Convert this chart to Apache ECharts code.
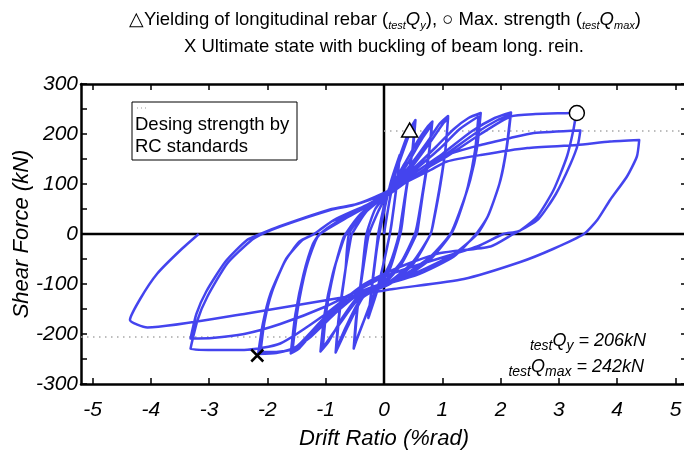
<!DOCTYPE html>
<html><head><meta charset="utf-8">
<script src="https://cdn.jsdelivr.net/npm/echarts@6/dist/echarts.min.js"></script>
<style>html,body{margin:0;padding:0;background:#fff}#c{width:684px;height:451px}</style>
</head><body><div id="c"></div>
<script>
const FONT = "'Liberation Sans',Arial,sans-serif";

// Axis ranges / tick labels
const xTickMin = -5, xTickMax = 5;
const yTickMin = -300, yTickMax = 300;
const designStrength = 206;
const testQy = 206, testQmax = 242;

// Hysteresis loops [drift %rad, shear kN]
const cycle025 = [[0,0],[0.1,70],[0.2,125],[0.27,155],[0.22,100],[0.14,30],[0.1,0],[0,-55],[-0.12,-115],[-0.26,-165],[-0.21,-110],[-0.13,-35],[-0.08,0],[0,45],[0.12,105],[0.27,158],[0.21,90],[0.13,20],[0.1,0],[-0.02,-65],[-0.14,-120],[-0.27,-168],[-0.21,-105],[-0.12,-20],[-0.1,0]];
const cycle05 = [[0,55],[0.15,110],[0.3,165],[0.44,208],[0.54,228],[0.5,175],[0.4,105],[0.3,30],[0.26,0],[0.1,-60],[-0.1,-105],[-0.3,-160],[-0.45,-205],[-0.52,-229],[-0.48,-170],[-0.39,-95],[-0.3,-25],[-0.26,0],[-0.1,45],[0.05,80],[0.25,140],[0.42,195],[0.53,222],[0.48,160],[0.38,85],[0.31,20],[0.28,0],[0.1,-70],[-0.15,-115],[-0.35,-175],[-0.51,-224],[-0.46,-155],[-0.37,-70],[-0.3,0]];
const cycle075 = [[-0.15,50],[0.05,80],[0.35,140],[0.6,190],[0.75,215],[0.83,225],[0.78,170],[0.68,95],[0.58,25],[0.53,0],[0.3,-55],[0,-95],[-0.35,-125],[-0.6,-180],[-0.83,-237],[-0.78,-170],[-0.68,-85],[-0.58,-15],[-0.55,0],[-0.3,45],[0.05,80],[0.4,140],[0.65,190],[0.82,218],[0.76,150],[0.66,75],[0.58,10],[0.56,0],[0.3,-60],[0,-100],[-0.4,-130],[-0.65,-185],[-0.82,-230],[-0.76,-155],[-0.66,-70],[-0.6,0]];
const cycle10 = [[-0.35,40],[0,78],[0.4,130],[0.75,185],[0.95,220],[1.1,236],[1.06,175],[0.97,100],[0.86,30],[0.8,0],[0.5,-55],[0.1,-95],[-0.4,-120],[-0.7,-165],[-0.95,-215],[-1.09,-235],[-1.02,-160],[-0.88,-80],[-0.72,-20],[-0.65,0],[-0.4,35],[0,75],[0.45,130],[0.8,185],[1.02,222],[1.1,232],[1.05,165],[0.95,90],[0.84,20],[0.8,0],[0.5,-60],[0.1,-100],[-0.4,-125],[-0.75,-178],[-1.05,-228],[-0.99,-155],[-0.86,-75],[-0.72,-15],[-0.66,0]];
const cycle15 = [[-0.4,40],[0,78],[0.5,130],[0.9,175],[1.2,210],[1.45,232],[1.66,242],[1.6,175],[1.48,108],[1.3,45],[1.14,0],[0.8,-45],[0.3,-85],[-0.4,-115],[-0.8,-150],[-1.2,-195],[-1.45,-228],[-1.6,-239],[-1.52,-160],[-1.38,-80],[-1.22,-20],[-1.1,0],[-0.6,35],[0,75],[0.5,125],[0.95,170],[1.3,210],[1.62,235],[1.56,165],[1.44,95],[1.28,35],[1.15,0],[0.8,-50],[0.3,-90],[-0.4,-118],[-0.85,-160],[-1.25,-205],[-1.57,-232],[-1.48,-150],[-1.34,-70],[-1.18,-15],[-1.1,0]];
const cycle20 = [[-0.8,25],[-0.3,55],[0,75],[0.5,120],[1.0,160],[1.5,205],[1.9,232],[2.18,243],[2.11,175],[2.0,108],[1.8,40],[1.6,0],[1.2,-40],[0.6,-75],[0,-100],[-0.45,-118],[-1.0,-165],[-1.5,-225],[-1.85,-238],[-2.16,-240],[-2.08,-180],[-1.95,-120],[-1.7,-55],[-1.45,-15],[-1.2,0],[-0.9,25],[-0.3,55],[0,72],[0.55,118],[1.05,158],[1.55,200],[1.95,228],[2.17,238],[2.1,170],[1.98,100],[1.78,35],[1.58,0],[1.2,-45],[0.6,-80],[0,-102],[-0.45,-120],[-1.0,-170],[-1.5,-228],[-1.85,-236],[-2.12,-236],[-2.05,-175],[-1.92,-115],[-1.68,-50],[-1.4,-12],[-1.2,0]];
const cycle30 = [[-0.86,28],[-0.3,58],[0,78],[0.68,128],[1.08,155],[1.66,200],[2.17,235],[2.6,240],[3.2,242],[3.3,243],[3.25,208],[3.14,155],[2.91,88],[2.63,35],[2.35,8],[2.22,0],[1.83,-25],[0.97,-38],[0.4,-60],[0,-80],[-0.4,-105],[-1.0,-160],[-1.78,-219],[-2.4,-232],[-2.92,-232],[-3.32,-230],[-3.2,-172],[-3.03,-125],[-2.69,-59],[-2.3,-15],[-2.09,0],[-1.78,15],[-0.92,48],[-0.52,58],[0,80],[0.5,112],[1.09,158],[1.66,178],[2.17,192],[2.57,202],[3.37,207],[3.33,180],[3.2,140],[2.95,80],[2.65,30],[2.3,5],[2.05,0],[1.6,-25],[0.5,-65],[0,-85],[-0.4,-110],[-1.0,-145],[-1.78,-180],[-2.4,-200],[-2.95,-208],[-3.32,-209],[-3.22,-160],[-3.05,-115],[-2.72,-55],[-2.35,-12],[-2.12,0]];
const cycle40 = [[-1.8,15],[-0.9,50],[-0.46,60],[0,82],[0.8,128],[1.08,145],[1.66,158],[2.46,172],[3.31,178],[3.88,185],[4.38,188],[4.34,155],[4.17,115],[3.88,68],[3.66,28],[3.43,0],[2.9,-30],[2.34,-56],[1.37,-90],[0.16,-110],[-0.46,-122],[-2.35,-159],[-4.06,-187],[-4.36,-172],[-4.18,-129],[-3.89,-79],[-3.49,-32],[-3.18,0]];

// Key points
const yieldPoint = [[0.44,208]];
const maxPoint = [[3.31,242]];
const ultimatePoint = [[-2.175,-243]];

const curve = [].concat(cycle025, cycle05, cycle075, cycle10, cycle15, cycle20, cycle30, cycle40);

const FRAME_MIN = -5.2, FRAME_MAX = 5.2;
const chart = echarts.init(document.getElementById('c'), null, {renderer:'canvas'});

const lblStyle = {fontFamily: FONT, fontStyle:'italic', fontSize:21, color:'#000'};
const frameAxisX = (pos) => ({gridIndex:0,type:'value',min:FRAME_MIN,max:FRAME_MAX,position:pos,
  axisLine:{show:true,onZero:false,lineStyle:{color:'#000',width:2.5}},axisTick:{show:false},axisLabel:{show:false},splitLine:{show:false}});
const tickAxisX = (pos, labels) => ({gridIndex:1,type:'value',min:xTickMin,max:xTickMax,interval:1,position:pos,
  axisLine:{show:false,onZero:false},axisTick:{show:true,inside:true,length:6,lineStyle:{color:'#000',width:1.5}},
  axisLabel:Object.assign({show:labels,margin:16},lblStyle),splitLine:{show:false}});

const option = {
  animation:false,
  backgroundColor:'#fff',
  grid:[{left:81,top:84,width:606,height:300,containLabel:false,outerBoundsMode:'none'},
        {left:92.5,top:84,width:583,height:300,containLabel:false,outerBoundsMode:'none'}],
  xAxis:[
    frameAxisX('bottom'), frameAxisX('top'),
    Object.assign(tickAxisX('bottom', true), {name:'Drift Ratio (%rad)',nameLocation:'middle',nameGap:44,nameMoveOverlap:false,
      nameTextStyle:{fontFamily:FONT,fontStyle:'italic',fontSize:22,color:'#000'}}),
    tickAxisX('top', false)
  ],
  yAxis:[
    {gridIndex:0,type:'value',min:yTickMin,max:yTickMax,interval:50,position:'left',
     axisLine:{show:true,onZero:false,lineStyle:{color:'#000',width:2.5}},
     axisTick:{show:true,inside:true,length:6,lineStyle:{color:'#000',width:1.5}},
     axisLabel:Object.assign({margin:3,formatter:v=>(v%100===0?String(v):'')},lblStyle),
     splitLine:{show:false},
     name:'Shear Force (kN)',nameLocation:'middle',nameGap:48,nameRotate:90,nameMoveOverlap:false,
     nameTextStyle:{fontFamily:FONT,fontStyle:'italic',fontSize:22,color:'#000'}},
    {gridIndex:0,type:'value',min:yTickMin,max:yTickMax,interval:50,position:'right',
     axisLine:{show:true,onZero:false,lineStyle:{color:'#000',width:2.5}},
     axisTick:{show:true,inside:true,length:6,lineStyle:{color:'#000',width:1.5}},
     axisLabel:{show:false},splitLine:{show:false}},
    {gridIndex:1,type:'value',min:yTickMin,max:yTickMax,show:false}
  ],
  series:[
    {type:'line',xAxisIndex:0,yAxisIndex:0,data:[[FRAME_MIN,0],[FRAME_MAX,0]],showSymbol:false,silent:true,z:1,
     lineStyle:{color:'#000',width:2.5}},
    {type:'line',xAxisIndex:0,yAxisIndex:0,data:[[0,yTickMin],[0,yTickMax]],showSymbol:false,silent:true,z:1,
     lineStyle:{color:'#000',width:2.5}},
    {type:'line',xAxisIndex:0,yAxisIndex:0,data:[[0,designStrength],[FRAME_MAX,designStrength]],showSymbol:false,silent:true,z:1,
     lineStyle:{color:'#a8a8a8',width:1.5,type:[1.5,4.5]}},
    {type:'line',xAxisIndex:0,yAxisIndex:0,data:[[FRAME_MIN,-designStrength],[0,-designStrength]],showSymbol:false,silent:true,z:1,
     lineStyle:{color:'#a8a8a8',width:1.5,type:[1.5,4.5]}},
    {type:'line',xAxisIndex:0,yAxisIndex:0,data:curve,showSymbol:false,silent:true,z:3,smooth:0.2,
     lineStyle:{color:'#4444ee',width:2.5,join:'round'}},
    {type:'scatter',xAxisIndex:0,yAxisIndex:0,data:yieldPoint,symbol:'triangle',symbolSize:[16,14],z:5,silent:true,
     itemStyle:{color:'#fff',opacity:1,borderColor:'#000',borderWidth:1.5}},
    {type:'scatter',xAxisIndex:0,yAxisIndex:0,data:maxPoint,symbol:'circle',symbolSize:15,z:5,silent:true,
     itemStyle:{color:'#fff',opacity:1,borderColor:'#000',borderWidth:1.5}},
    {type:'scatter',xAxisIndex:0,yAxisIndex:0,data:ultimatePoint,symbol:'path://M0,0L10,10M10,0L0,10',symbolSize:12,z:5,silent:true,
     itemStyle:{color:'none',opacity:1,borderColor:'#000',borderWidth:2.5}}
  ],
  graphic:[
    {type:'text',x:385,y:20,z:10,style:{
      text:'△Yielding of longitudinal rebar ({s|test}{i|Q}{s|y}), ○ Max. strength ({s|test}{i|Q}{s|max})',
      fontFamily:FONT,fontSize:18.5,fill:'#000',align:'center',verticalAlign:'middle',textAlign:'center',textVerticalAlign:'middle',
      lineHeight:22,
      rich:{s:{fontFamily:FONT,fontSize:11,fontStyle:'italic',lineHeight:11,verticalAlign:'bottom'},
            i:{fontFamily:FONT,fontSize:18.5,fontStyle:'italic',lineHeight:22}}}},
    {type:'text',x:384,y:47,z:10,style:{text:'X Ultimate state with buckling of beam long. rein.',
      fontFamily:FONT,fontSize:18.5,fill:'#000',align:'center',verticalAlign:'middle',textAlign:'center',textVerticalAlign:'middle'}},
    {type:'rect',z:10,shape:{x:132,y:102,width:165,height:58},style:{fill:'#fff',stroke:'#000',lineWidth:1}},
    {type:'line',z:11,shape:{x1:137,y1:108,x2:149,y2:108},style:{stroke:'#999',lineWidth:1,lineDash:[1,3]}},
    {type:'text',x:135,y:114,z:11,style:{text:'Desing strength by\nRC standards',fontFamily:FONT,fontSize:18.5,lineHeight:22,fill:'#000'}},
    {type:'text',x:646,y:341,z:10,style:{
      text:'{s|test}{q|Q}{t|y}{q| = '+testQy+'kN}',
      fontFamily:FONT,fontSize:18,fontStyle:'italic',fill:'#000',align:'right',verticalAlign:'middle',textAlign:'right',textVerticalAlign:'middle',
      rich:{s:{fontFamily:FONT,fontSize:14,fontStyle:'italic',lineHeight:12,verticalAlign:'bottom'},
            t:{fontFamily:FONT,fontSize:14,fontStyle:'italic',lineHeight:12,verticalAlign:'bottom'},
            q:{fontFamily:FONT,fontSize:18,fontStyle:'italic',lineHeight:24}}}},
    {type:'text',x:644,y:367,z:10,style:{
      text:'{s|test}{q|Q}{t|max}{q| = '+testQmax+'kN}',
      fontFamily:FONT,fontSize:18,fontStyle:'italic',fill:'#000',align:'right',verticalAlign:'middle',textAlign:'right',textVerticalAlign:'middle',
      rich:{s:{fontFamily:FONT,fontSize:14,fontStyle:'italic',lineHeight:12,verticalAlign:'bottom'},
            t:{fontFamily:FONT,fontSize:14,fontStyle:'italic',lineHeight:12,verticalAlign:'bottom'},
            q:{fontFamily:FONT,fontSize:18,fontStyle:'italic',lineHeight:24}}}}
  ]
};
chart.setOption(option);
</script></body></html>
